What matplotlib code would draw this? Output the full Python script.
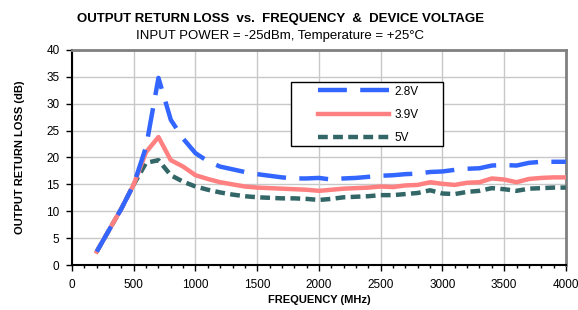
import matplotlib.pyplot as plt
from matplotlib.patches import Rectangle
from matplotlib.ticker import MultipleLocator

plt.rcParams['font.family'] = ['Liberation Sans', 'DejaVu Sans']

freq = [200, 300, 400, 500, 600, 700, 800, 900, 1000, 1100, 1200, 1300, 1400,
        1500, 1600, 1700, 1800, 1900, 2000, 2100, 2200, 2300, 2400, 2500, 2600,
        2700, 2800, 2900, 3000, 3100, 3200, 3300, 3400, 3500, 3600, 3700, 3800,
        3900, 4000]
rl_28 = [2.5, 6.5, 10.5, 15.0, 22.0, 34.8, 27.0, 23.5, 20.8, 19.3, 18.3, 17.8,
         17.3, 16.9, 16.6, 16.3, 16.1, 16.1, 16.2, 15.9, 16.1, 16.2, 16.4, 16.6,
         16.7, 16.9, 17.0, 17.3, 17.4, 17.7, 17.9, 18.0, 18.5, 18.6, 18.5, 19.0,
         19.2, 19.2, 19.2]
rl_39 = [2.5, 6.5, 10.5, 15.0, 21.0, 23.8, 19.5, 18.3, 16.7, 16.0, 15.4, 15.0,
         14.6, 14.4, 14.3, 14.2, 14.1, 14.0, 13.8, 14.0, 14.2, 14.3, 14.4, 14.6,
         14.5, 14.8, 14.9, 15.4, 15.1, 14.9, 15.3, 15.4, 16.1, 15.9, 15.4, 16.0,
         16.2, 16.3, 16.3]
rl_50 = [2.5, 6.5, 10.5, 15.0, 19.0, 19.5, 16.7, 15.5, 14.6, 14.0, 13.5, 13.1,
         12.8, 12.6, 12.5, 12.4, 12.4, 12.3, 12.1, 12.3, 12.6, 12.7, 12.8, 13.0,
         13.0, 13.2, 13.4, 13.9, 13.3, 13.2, 13.6, 13.8, 14.3, 14.1, 13.8, 14.2,
         14.3, 14.4, 14.4]
labels = ['2.8V', '3.9V', '5V']

fig = plt.figure(figsize=(5.78, 3.10), dpi=100)
ax = fig.add_axes([0.1246, 0.145, 0.8545, 0.694])

ax.plot(freq, rl_50, color='#336666', lw=3.2, dashes=(2.2, 1.2), label=labels[2], zorder=3)
ax.plot(freq, rl_39, color='#ff8080', lw=3.2, label=labels[1], zorder=4)
ax.plot(freq, rl_28, color='#3366ff', lw=3.2, dashes=(6.5, 3), label=labels[0], zorder=5)

ax.set_xlim(0, 4000)
ax.set_ylim(0, 40)
ax.xaxis.set_major_locator(MultipleLocator(500))
ax.xaxis.set_minor_locator(MultipleLocator(100))
ax.yaxis.set_major_locator(MultipleLocator(5))
ax.grid(True, which='major', color='#c8c8c8', lw=1)
ax.tick_params(axis='y', which='major', labelsize=8.5, length=4, width=1, direction='out', pad=5)
ax.tick_params(axis='x', which='major', labelsize=8.5, length=4, width=1, direction='out', pad=6)
ax.tick_params(axis='x', which='minor', length=2.5, width=1, direction='out')
for s in ['top', 'right']:
    ax.spines[s].set_color('#808080')
    ax.spines[s].set_linewidth(2)
for s in ['left', 'bottom']:
    ax.spines[s].set_color('#000000')
    ax.spines[s].set_linewidth(1.5)

ax.set_xlabel('FREQUENCY (MHz)', fontsize=8, fontweight='bold', labelpad=3)
ax.set_ylabel('OUTPUT RETURN LOSS (dB)', fontsize=8, fontweight='bold', labelpad=15)

# legend box drawn separately so the padding matches the original
ax.add_patch(Rectangle((0.443, 0.553), 0.308, 0.298, transform=ax.transAxes,
                       facecolor='white', edgecolor='black', lw=1, zorder=6))
handles, labs = ax.get_legend_handles_labels()
leg = ax.legend(handles[::-1], labs[::-1], loc='upper left', bbox_to_anchor=(0.498, 0.834),
                fontsize=8.5, frameon=False, handlelength=6.0, handletextpad=0.5,
                borderpad=0, labelspacing=0.95, borderaxespad=0)
leg.set_zorder(7)

fig.text(0.485, 0.93, 'OUTPUT RETURN LOSS  vs.  FREQUENCY  &  DEVICE VOLTAGE',
         ha='center', va='baseline', fontsize=9.5, fontweight='bold')
fig.text(0.485, 0.874, 'INPUT POWER = -25dBm, Temperature = +25°C',
         ha='center', va='baseline', fontsize=9.5)

fig.savefig('out.png', dpi=100)
plt.close()
